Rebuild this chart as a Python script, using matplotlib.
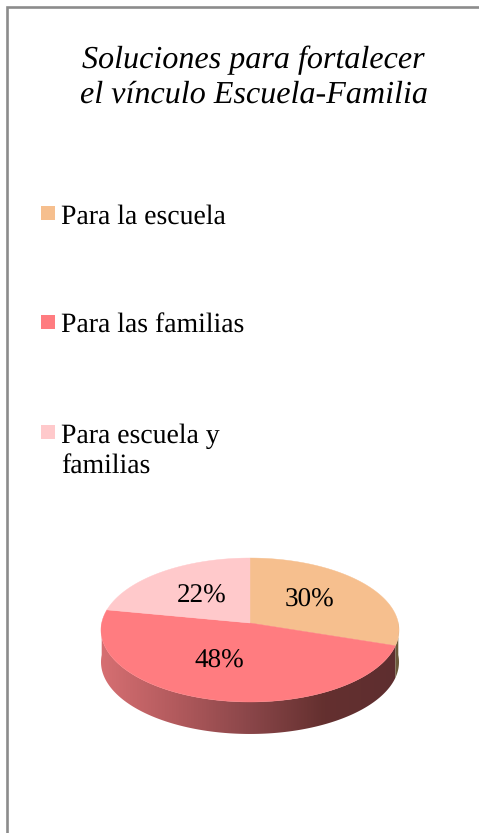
import numpy as np
import matplotlib
matplotlib.use("Agg")
import matplotlib.pyplot as plt
from matplotlib.colors import LinearSegmentedColormap
from matplotlib.patches import Polygon, Rectangle

title_lines = ["Soluciones para fortalecer", "el vínculo Escuela-Familia"]
labels = ["Para la escuela", "Para las familias", "Para escuela y\nfamilias"]
values = [30, 48, 22]
colors = ["#f6bf8e", "#ff7c80", "#ffc9cb"]

legend_y = [224, 333, 443]
label_pos = [(309.5, 607), (219, 668), (201.5, 603)]

# pie drawn in screen pixels, circle pushed through a small perspective
cx, cy = 250, 623
A, k, c = 148.3, 71.3, -0.0972
depth = 32


def rim(t):
    X, Y = np.sin(t), -np.cos(t)
    d = 1 + c * Y
    return cx + A * X / d, cy + k * Y / d


plt.rcParams["font.family"] = ["Liberation Serif", "DejaVu Serif"]
plt.rcParams["text.hinting"] = "no_hinting"

fig = plt.figure(figsize=(4.79, 8.33), dpi=100)
ax = fig.add_axes([0, 0, 1, 1])

# frame, only top and left show
ax.plot([7, 7, 479], [833, 6.5, 6.5], color="#8c8c8c", lw=1.9, solid_joinstyle="miter")

fracs = np.cumsum([0] + values) / sum(values)
turn = 2 * np.pi * fracs

# side wall
t = np.linspace(turn[1], 1.5 * np.pi, 200)
x, y = rim(t)
side = Polygon(np.r_[np.c_[x, y], np.c_[x[::-1], y[::-1] + depth]], fc="none", ec="none")
ax.add_patch(side)
wall = LinearSegmentedColormap.from_list("wall", ["#d66f72", "#b25a5d", "#8a4649", "#64302f", "#5e2e30"])
im = ax.imshow(np.linspace(0, 1, 256)[None, :], cmap=wall, extent=[101, 399, 800, 600], aspect="auto", zorder=1)
im.set_clip_path(side)

t = np.linspace(0.5 * np.pi, turn[1], 30)
x, y = rim(t)
ax.add_patch(Polygon(np.r_[np.c_[x, y], np.c_[x[::-1], y[::-1] + depth]], fc="#6b5a3a", ec="none", zorder=1))

# top face
for i in range(len(values)):
    t = np.linspace(turn[i], turn[i + 1], 200)
    x, y = rim(t)
    ax.add_patch(Polygon(np.r_[[(cx, cy)], np.c_[x, y]], fc=colors[i], ec=colors[i], lw=0.3, zorder=2))

for v, (px, py) in zip(values, label_pos):
    ax.text(px, py, f"{v}%", fontsize=19.5, ha="center", va="baseline", color="black", zorder=3)

for line, ty in zip(title_lines, [68, 103]):
    ax.text(253.5, ty, line, fontsize=23.1, style="italic", ha="center", va="baseline", color="black")

for name, col, ly in zip(labels, colors, legend_y):
    ax.add_patch(Rectangle((41, ly - 18), 14, 14, fc=col, ec="none"))
    for j, part in enumerate(name.split("\n")):
        ax.text(61, ly + j * 31, part, fontsize=20, ha="left", va="baseline", color="black")

ax.set_xlim(0, 479)
ax.set_ylim(833, 0)
ax.axis("off")

fig.savefig("out.png", dpi=100, facecolor="white")
